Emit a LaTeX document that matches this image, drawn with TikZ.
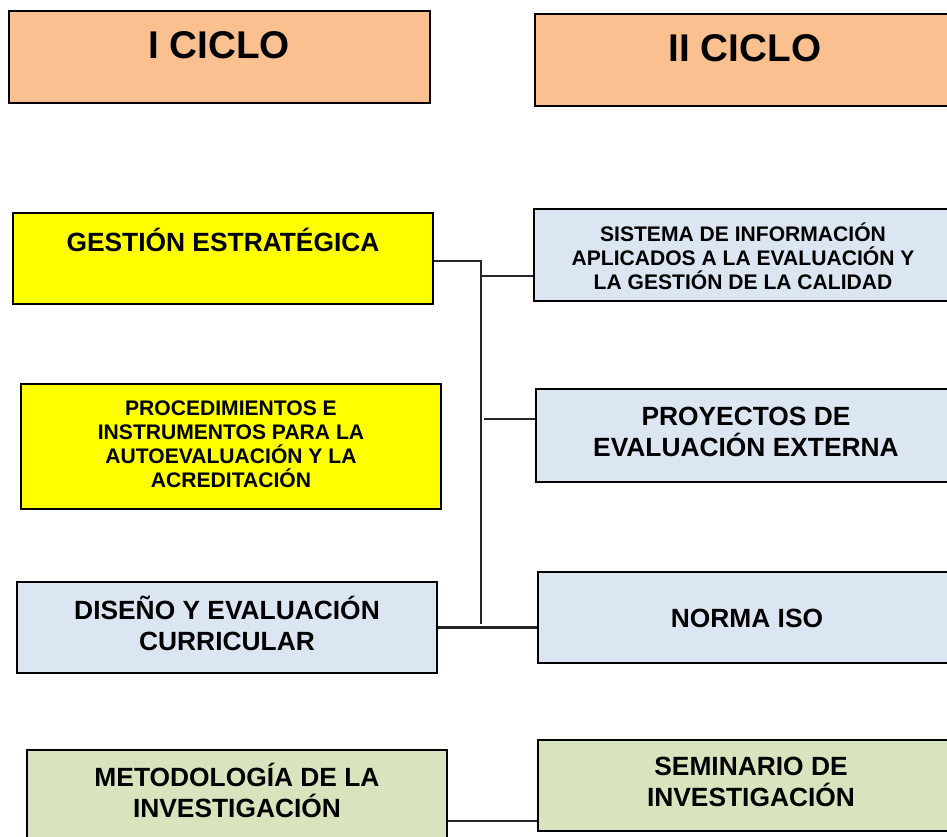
\documentclass[tikz,border=0pt]{standalone}
\usepackage{fontspec}
\setmainfont{Liberation Sans}
\definecolor{peach}{HTML}{FAC090}
\definecolor{lemon}{HTML}{FFFF00}
\definecolor{paleblue}{HTML}{DCE6F2}
\definecolor{palegreen}{HTML}{D7E4BD}

\begin{document}
\begin{tikzpicture}[x=0.02cm, y=-0.02cm,
block/.style={rectangle, draw=black, line width=1.1pt, minimum width=8.4cm, minimum height=1.82cm, inner sep=0pt},
block-title/.style={block, fill=peach, minimum width=8.42cm, minimum height=1.84cm},
block-yellow/.style={block, fill=lemon},
block-blue/.style={block, fill=paleblue},
block-green/.style={block, fill=palegreen},
txt-title/.style={font=\fontsize{22}{26}\selectfont\bfseries, align=center, inner sep=0pt},
txt-big/.style={font=\fontsize{15}{17.6}\selectfont\bfseries, align=center, inner sep=0pt},
txt-small/.style={font=\fontsize{12}{13.6}\selectfont\bfseries, align=center, inner sep=0pt},
conn/.style={line width=1.3pt, draw=black!85}
]
\useasboundingbox (0,0) rectangle (947,836);
\clip (0,0) rectangle (947,836);

% headers
\node [block-title] (ciclo-1) at (219.5,57) {};
\node [txt-title] (ciclo-1-txt) at (219,45) {I CICLO};
\node [block-title, minimum width=8.4cm] (ciclo-2) at (745,60) {};
\node [txt-title] (ciclo-2-txt) at (745,48) {II CICLO};

% left column
\node [block-yellow] (gestion) at (223,258.5) {};
\node [txt-big] (gestion-txt) at (223,240) {GESTIÓN ESTRATÉGICA};
\node [block-yellow, minimum height=2.5cm] (procedimientos) at (231,446.5) {};
\node [txt-small] (procedimientos-txt) at (231,444) {PROCEDIMIENTOS E\\INSTRUMENTOS PARA LA\\AUTOEVALUACIÓN Y LA\\ACREDITACIÓN};
\node [block-blue] (diseno) at (227,627.5) {};
\node [txt-big] (diseno-txt) at (227,623.5) {DISEÑO Y EVALUACIÓN\\CURRICULAR};
\node [block-green] (metodologia) at (237,795.5) {};
\node [txt-big] (metodologia-txt) at (237,790.5) {METODOLOGÍA DE LA\\INVESTIGACIÓN};

% right column
\node [block-blue, minimum height=1.84cm] (sistema) at (744,255) {};
\node [txt-small] (sistema-txt) at (743,256) {SISTEMA DE INFORMACIÓN\\APLICADOS A LA EVALUACIÓN Y\\LA GESTIÓN DE LA CALIDAD};
\node [block-blue, minimum height=1.86cm] (proyectos) at (746,435.5) {};
\node [txt-big] (proyectos-txt) at (746,431.5) {PROYECTOS DE\\EVALUACIÓN EXTERNA};
\node [block-blue] (norma) at (748,617.5) {};
\node [txt-big] (norma-txt) at (747,618) {NORMA ISO};
\node [block-green] (seminario) at (748,785.5) {};
\node [txt-big] (seminario-txt) at (751,781.5) {SEMINARIO DE\\INVESTIGACIÓN};

% connectors
\coordinate (trunk-top) at (481,261);
\coordinate (trunk-bot) at (481,624);
\coordinate (tap-sistema) at (482,276);
\coordinate (tap-proyectos) at (484,419);
\coordinate (tap-seminario) at (447,821);
\draw [conn] (gestion.east |- trunk-top) -- (trunk-top) -- (trunk-bot);
\draw [conn] (tap-sistema) -- (tap-sistema -| sistema.west);
\draw [conn] (tap-proyectos) -- (tap-proyectos -| proyectos.west);
\draw [conn] (diseno.east) -- (diseno.east -| norma.west);
\draw [conn] (tap-seminario -| metodologia.east) -- (tap-seminario -| seminario.west);

\end{tikzpicture}
\end{document}
